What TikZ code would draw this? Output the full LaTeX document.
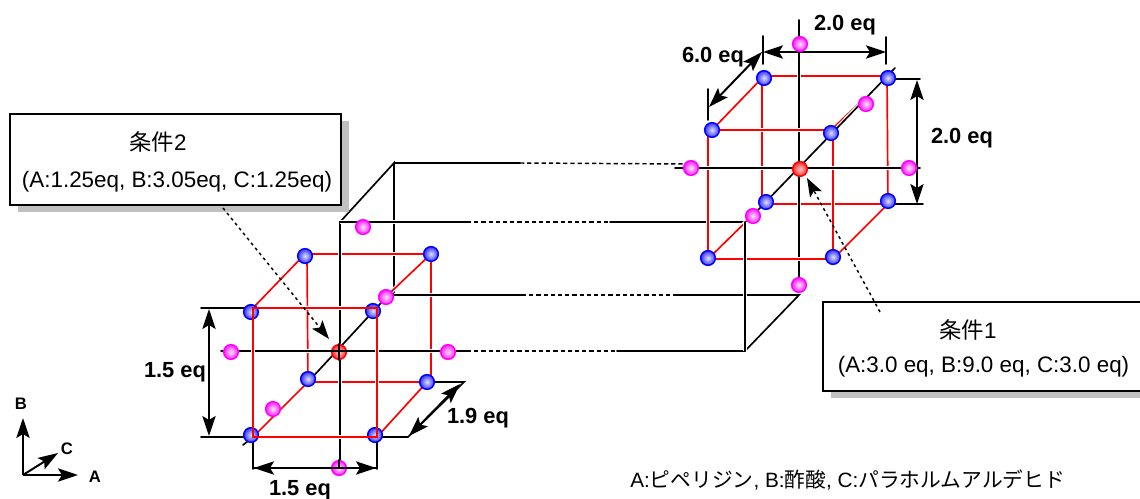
\documentclass[tikz,border=0pt]{standalone}
\usepackage{fontspec}
\setmainfont{Liberation Sans}
\newfontfamily\jp{Noto Sans CJK JP}
\usetikzlibrary{arrows.meta}
\definecolor{mg}{RGB}{255,0,255}
\definecolor{puregreyshadow}{RGB}{192,192,192}
\tikzset{
 x=0.75pt,y=-0.75pt,
 halo/.style={preaction={draw=white,line width=3pt,line cap=butt}},
 blk/.style={draw=black,line width=1.25pt,line cap=round},
 hblk/.style={blk,halo},
 red edge/.style={draw=red,line width=1.25pt,halo},
 dashline/.style={draw=black,line width=1.1pt,dash pattern=on 3.2pt off 2.2pt},
 dotarrow/.style={draw=black,line width=1.1pt,dash pattern=on 2.2pt off 2.6pt,-{Stealth[length=14pt,width=10pt,inset=3pt]}},
 dim/.style={draw=black,line width=1.5pt,{Stealth[length=15pt,width=10pt,inset=3pt]}-{Stealth[length=15pt,width=10pt,inset=3pt]}},
 axisarrow/.style={draw=black,line width=1.5pt,-{Stealth[length=15pt,width=10pt,inset=3pt]}},
 ball/.style={circle,minimum size=11pt,inner sep=0pt,line width=1.1pt,shading=radial},
 bblue/.style={ball,draw=blue,inner color=blue!12,outer color=blue!80},
 bpink/.style={ball,draw=mg,inner color=mg!10,outer color=mg!90},
 bred/.style={ball,draw=red,inner color=red!20,outer color=red!85},
 eqlabel/.style={font=\fontsize{16.4}{18}\selectfont\bfseries,inner sep=0pt},
 axlabel/.style={font=\fontsize{12.5}{13}\selectfont\bfseries,inner sep=0pt},
 boxframe/.style={draw=black,line width=1.3pt,fill=white},
 boxshadow/.style={fill=puregreyshadow,draw=none},
 boxtext/.style={font=\fontsize{16.8}{20}\selectfont,inner sep=0pt},
}
\begin{document}
\begin{tikzpicture}
\useasboundingbox (0,0) rectangle (1140,499);
\clip (0,0) rectangle (1140,499);
% ---- prism corners
\coordinate (pa) at (394,163); \coordinate (pb) at (340,222);
\coordinate (pc) at (394,295); \coordinate (pd) at (340,351);
\coordinate (pe) at (520,163); \coordinate (pf) at (687,164);
\coordinate (pg) at (467,222); \coordinate (ph) at (610,222);
\coordinate (pi) at (745,222); \coordinate (pj) at (522,295);
\coordinate (pk) at (686,295); \coordinate (pl) at (675,295);
\coordinate (pm) at (799,295); \coordinate (pn) at (745,351);
\coordinate (po) at (467,351); \coordinate (pp) at (617,351);
% ---- right cube frame corners
\coordinate (r1) at (764,76); \coordinate (r2) at (888,76);
\coordinate (r3) at (708,130); \coordinate (r4) at (831,130);
\coordinate (r5) at (762,204); \coordinate (r6) at (888,204);
\coordinate (r7) at (708,259); \coordinate (r8) at (833,259);
\coordinate (r1v) at (762,78); \coordinate (r2v) at (887,78);
\coordinate (r4v) at (833,133); \coordinate (r8v) at (833,257);
\coordinate (r3d) at (712,130);
% ---- right axes
\coordinate (ra1) at (799,20); \coordinate (ra2) at (799,295);
\coordinate (ra3) at (675,168); \coordinate (ra4) at (920,168);
\coordinate (ra5) at (895,68); \coordinate (ra6) at (758,210);
% ---- left cube frame corners
\coordinate (l1) at (305,254); \coordinate (l2) at (431,254);
\coordinate (l3) at (253,308); \coordinate (l4) at (377,308);
\coordinate (l5) at (307,382); \coordinate (l6) at (431,382);
\coordinate (l7) at (253,437); \coordinate (l8) at (377,437);
\coordinate (l1v) at (307,256); \coordinate (l5d) at (308,382);
\coordinate (l6d) at (427,382);
% ---- left axes
\coordinate (la1) at (340,222); \coordinate (la2) at (340,470);
\coordinate (la3) at (221,351); \coordinate (la5) at (392,291);
\coordinate (la6) at (243,445);
% ---- left prism back
\draw[blk] (pb) -- (pa) -- (pc);
\draw[blk] (pa) -- (pe);
\draw[dashline] (pe) -- (pf);
\draw[dashline] (pg) -- (ph);
\draw[dashline] (pj) -- (pk);
\draw[dashline] (po) -- (pp);
\draw[blk] (ph) -- (pi);
\draw[blk] (pp) -- (pn);
% ---- left cube back
\path[red edge] (l1) -- (l2);
\path[red edge] (l1v) -- (l5d);
\path[red edge] (l2) -- (l6);
\path[red edge] (l5d) -- (l6d);
\path[red edge] (l2) -- (la5);
% ---- left black lines
\draw[hblk] (la1) -- (la2);
\draw[hblk] (pb) -- (pg);
\draw[hblk] (pc) -- (pj);
\draw[hblk] (la3) -- (po);
\draw[hblk] (la5) -- (l5d);
\draw[blk] (l7) -- (la6);
% ---- left cube front
\path[red edge] (l7) -- (l5d);
\path[red edge] (l3) -- (l1);
\path[red edge] (l8) -- (l6d);
\path[red edge] (l3) rectangle (l8);
% ---- left dimension lines
\coordinate (d1a) at (201,308); \coordinate (d1b) at (201,437);
\coordinate (d2a) at (209,309); \coordinate (d2b) at (209,436);
\coordinate (d3a) at (408,437); \coordinate (d3b) at (464,382);
\coordinate (d4a) at (409,436); \coordinate (d4b) at (460,384);
\coordinate (d5a) at (253,469); \coordinate (d5b) at (377,469);
\coordinate (d6a) at (254,468); \coordinate (d6b) at (376,468);
\draw[blk] (d1a) -- (l3);
\draw[blk] (d1b) -- (l7);
\draw[dim] (d2a) -- (d2b);
\draw[blk] (l8) -- (d3a) -- (d3b) -- (l6d);
\draw[dim] (d4a) -- (d4b);
\draw[blk] (l7) -- (d5a);
\draw[blk] (l8) -- (d5b);
\draw[dim] (d6a) -- (d6b);
% ---- right cube
\path[red edge] (r1) -- (r2);
\path[red edge] (r1v) -- (r5);
\path[red edge] (r5) -- (r6);
\path[red edge] (r2v) -- (r6);
\path[red edge] (r3) -- (r7);
\path[red edge] (r4v) -- (r8v);
\draw[hblk] (ra1) -- (ra2);
\draw[hblk] (ra3) -- (ra4);
\path[red edge] (r2) -- (r4);
\draw[hblk] (ra5) -- (ra6);
\path[red edge] (r3) -- (r4);
\path[red edge] (r7) -- (r8);
\path[red edge] (r3d) -- (r1);
\path[red edge] (r8) -- (r6);
\path[red edge] (r7) -- (ra6);
% ---- right prism front
\draw[hblk] (pl) -- (pm) -- (pn);
\draw[hblk] (pi) -- (pn);
% ---- right dimension lines
\coordinate (t1a) at (763,36); \coordinate (t1b) at (763,64);
\coordinate (t2a) at (886,37); \coordinate (t2b) at (886,64);
\coordinate (t3a) at (763,52); \coordinate (t3b) at (886,52);
\coordinate (t4a) at (762,52); \coordinate (t4b) at (709,107);
\coordinate (t5a) at (708,89); \coordinate (t5b) at (708,120);
\coordinate (t6a) at (892,79); \coordinate (t6b) at (920,79);
\coordinate (t7a) at (895,204); \coordinate (t7b) at (923,204);
\coordinate (t8a) at (917,80); \coordinate (t8b) at (917,204);
\draw[blk] (t1a) -- (t1b);
\draw[blk] (t2a) -- (t2b);
\draw[dim] (t3a) -- (t3b);
\draw[dim] (t4a) -- (t4b);
\draw[blk] (t5a) -- (t5b);
\draw[blk] (t6a) -- (t6b);
\draw[blk] (t7a) -- (t7b);
\draw[dim] (t8a) -- (t8b);
% ---- balls
\node[bblue] (rb1) at (764,78) {};
\node[bblue] (rb2) at (888,78) {};
\node[bblue] (rb3) at (712,130) {};
\node[bblue] (rb4) at (831,133) {};
\node[bblue] (rb5) at (766,202) {};
\node[bblue] (rb6) at (888,201) {};
\node[bblue] (rb7) at (708,258) {};
\node[bblue] (rb8) at (833,257) {};
\node[bred] (rc) at (800,169) {};
\node[bpink] (rm1) at (800,44) {};
\node[bpink] (rm2) at (799,285) {};
\node[bpink] (rm3) at (691,168) {};
\node[bpink] (rm4) at (909,168) {};
\node[bpink] (rm5) at (753,216) {};
\node[bpink] (rm6) at (866,104) {};
\node[bblue] (lb1) at (305,256) {};
\node[bblue] (lb2) at (431,254) {};
\node[bblue] (lb3) at (251,312) {};
\node[bblue] (lb4) at (373,311) {};
\node[bblue] (lb5) at (308,379) {};
\node[bblue] (lb6) at (427,382) {};
\node[bblue] (lb7) at (251,435) {};
\node[bblue] (lb8) at (375,435) {};
\node[bred] (lc) at (339,352) {};
\node[bpink] (lm1) at (363,227) {};
\node[bpink] (lm2) at (339,468) {};
\node[bpink] (lm3) at (231,352) {};
\node[bpink] (lm4) at (448,352) {};
\node[bpink] (lm5) at (386,297) {};
\node[bpink] (lm6) at (273,409) {};
% redraw over the balls where the frame lies on top
\draw[blk] (la3 -| lc.west) -- (la3 -| lc.east);
\draw[blk] (lc.north) -- (lc.south);
\draw[blk] (lm2.north) -- (lm2.center);
\draw[blk] (d6a) -- (d6b);
\path[draw=red,line width=1.25pt] (l3) rectangle (l8);
% ---- boxes
\fill[boxshadow] (18,121) rectangle (349,212);
\draw[boxframe] (10,114) rectangle (341,205);
\node[boxtext] (b2a) at (158,142) {{\jp 条件}2};
\node[boxtext] (b2b) at (177,182) {(A:1.25eq, B:3.05eq, C:1.25eq)};
\fill[boxshadow] (831,310) rectangle (1150,398);
\draw[boxframe] (823,302) rectangle (1150,391);
\node[boxtext] (b1a) at (968,330) {{\jp 条件}1};
\node[boxtext] (b1b) at (983.5,367) {(A:3.0 eq, B:9.0 eq, C:3.0 eq)};
\coordinate (pt2) at (223,208); \coordinate (pt1) at (880,312);
\coordinate (tip2) at (329,339); \coordinate (tip1) at (807,178);
\draw[dotarrow] (pt2) -- (tip2);
\draw[dotarrow] (pt1) -- (tip1);
% ---- labels
\node[eqlabel] (e1) at (845,25) {2.0 eq};
\node[eqlabel] (e2) at (713,57) {6.0 eq};
\node[eqlabel] (e3) at (962,138) {2.0 eq};
\node[eqlabel] (e4) at (175,372) {1.5 eq};
\node[eqlabel] (e5) at (478,418) {1.9 eq};
\node[eqlabel] (e6) at (300,490) {1.5 eq};
% ---- axes
\coordinate (o) at (23,475);
\coordinate (oa) at (78,475); \coordinate (ob) at (23,418); \coordinate (oc) at (58,453);
\draw[axisarrow] (o) -- (oa);
\draw[axisarrow] (o) -- (ob);
\draw[axisarrow] (o) -- (oc);
\node[axlabel] (aa) at (95,477) {A};
\node[axlabel] (ab) at (21,404) {B};
\node[axlabel] (ac) at (67,449) {C};
% ---- legend
\node[anchor=west,inner sep=0pt,font=\fontsize{15.55}{18}\selectfont] (leg) at (630,480)
 {A:{\jp ピペリジン}, B:{\jp 酢酸}, C:{\jp パラホルムアルデヒド}};
\end{tikzpicture}
\end{document}
